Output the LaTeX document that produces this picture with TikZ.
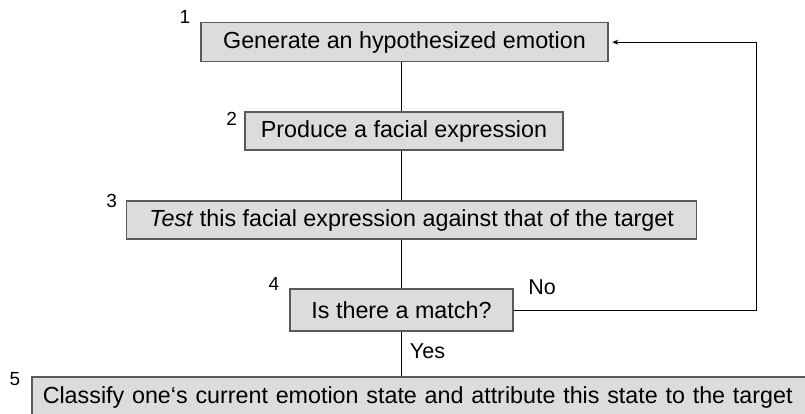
\documentclass[tikz,border=0pt]{standalone}
\usepackage{fontspec}
\setmainfont{Liberation Sans}
\usetikzlibrary{arrows.meta}
\definecolor{boxfill}{HTML}{DCDCDC}
\definecolor{boxline}{HTML}{5A5A5A}
\begin{document}
\begin{tikzpicture}[x=1pt,y=-1pt,
  stepbox/.style={draw=boxline, fill=boxfill, line width=1.5pt, inner sep=0pt,
    font=\fontsize{23.3}{27}\selectfont},
  stepnum/.style={inner sep=0pt, font=\fontsize{19}{22}\selectfont},
  tag/.style={inner sep=0pt, font=\fontsize{21.5}{24}\selectfont},
  link/.style={draw=black, line width=1pt}]
\clip (0,0) rectangle (805,414);
\fill[white] (0,0) rectangle (805,414);

% process steps
\node[stepbox, minimum width=407, minimum height=39] (gen) at (404.5,42.2) {Generate an hypothesized emotion};
\node[stepbox, minimum width=318, minimum height=38.3] (prod) at (404,131) {Produce a facial expression};
\node[stepbox, minimum width=570, minimum height=38.3] (test) at (411.7,220) {\textit{Test} this facial expression against that of the target};
\node[stepbox, minimum width=223, minimum height=42] (match) at (401.5,310) {Is there a match?};
\node[stepbox, anchor=west, text width=800, align=left, inner xsep=11pt, minimum height=40] (classify) at (31,397) {Classify one‘s current emotion state and attribute this state to the target};

% step numbers
\node[stepnum] (n1) at (185,17) {1};
\node[stepnum] (n2) at (231.7,119) {2};
\node[stepnum] (n3) at (111.7,201) {3};
\node[stepnum] (n4) at (274,284) {4};
\node[stepnum] (n5) at (15,379) {5};

% main spine
\coordinate (spine) at (401.7,0);
\draw[link] (gen.south -| spine) -- (prod.north -| spine);
\draw[link] (prod.south -| spine) -- (test.north -| spine);
\draw[link] (test.south -| spine) -- (match.north -| spine);
\draw[link] (match.south -| spine) -- (classify.north -| spine);

% feedback loop
\coordinate (loopx) at (756.7,0);
\draw[link, -{Stealth[length=6pt,width=5pt]}, shorten >=3.5pt]
  (match.east) -- (match.east -| loopx) -- (gen.east -| loopx) -- (gen.east);

% branch labels
\node[tag] (no) at (542,287) {No};
\node[tag] (yes) at (427.5,351) {Yes};
\end{tikzpicture}
\end{document}
